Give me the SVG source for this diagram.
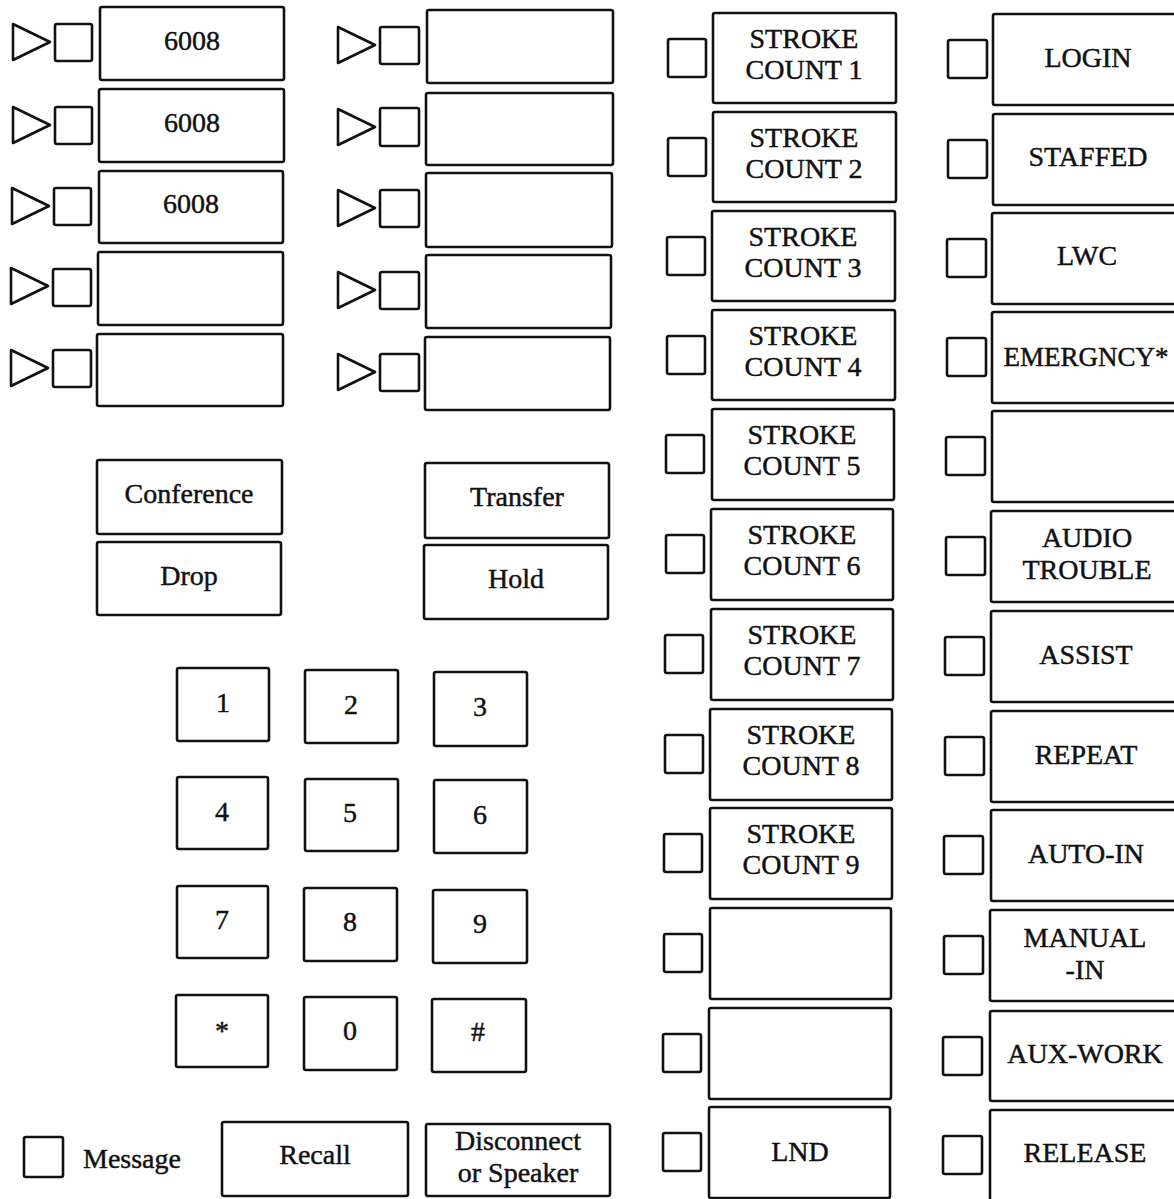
<svg xmlns="http://www.w3.org/2000/svg" width="1174" height="1199" viewBox="0 0 1174 1199">
<style>
rect,polygon{fill:#fff;stroke:#111;stroke-width:2.6;stroke-linejoin:round}
text{font-family:"Liberation Serif","Times New Roman",serif;font-size:28px;text-anchor:middle;fill:#111;stroke:#111;stroke-width:0.45}
.m{font-size:28px}
.d{font-size:28px}
.s{text-anchor:start}
</style>
<rect x="0" y="0" width="1174" height="1199" style="fill:#fff;stroke:none"/>
<!-- left line appearances column 1 -->
<g id="line1"><polygon points="13,24 50,42 13,60"/><rect x="55" y="24" width="37" height="37" rx="2"/><rect x="100" y="7" width="184" height="73" rx="2"/><text x="192" y="50">6008</text></g>
<g id="line2"><polygon points="13,107 50,125 13,143"/><rect x="55" y="107" width="37" height="37" rx="2"/><rect x="99" y="89" width="185" height="73" rx="2"/><text x="192" y="132">6008</text></g>
<g id="line3"><polygon points="12,188 49,206 12,224"/><rect x="54" y="188" width="37" height="37" rx="2"/><rect x="99" y="171" width="184" height="72" rx="2"/><text x="191" y="213">6008</text></g>
<g id="line4"><polygon points="11,268 48,286 11,304"/><rect x="53" y="269" width="38" height="37" rx="2"/><rect x="98" y="252" width="185" height="73" rx="2"/></g>
<g id="line5"><polygon points="11,350 48,368 11,386"/><rect x="53" y="350" width="38" height="37" rx="2"/><rect x="97" y="334" width="186" height="72" rx="2"/></g>
<!-- column 2 -->
<g id="line6"><polygon points="338,27 375,45 338,63"/><rect x="380" y="27" width="39" height="37" rx="2"/><rect x="427" y="10" width="186" height="73" rx="2"/></g>
<g id="line7"><polygon points="338,109 375,127 338,145"/><rect x="380" y="108" width="39" height="38" rx="2"/><rect x="426" y="93" width="187" height="72" rx="2"/></g>
<g id="line8"><polygon points="338,190 375,208 338,226"/><rect x="380" y="190" width="39" height="37" rx="2"/><rect x="426" y="173" width="186" height="74" rx="2"/></g>
<g id="line9"><polygon points="338,272 375,290 338,308"/><rect x="380" y="272" width="39" height="37" rx="2"/><rect x="426" y="255" width="185" height="73" rx="2"/></g>
<g id="line10"><polygon points="338,354 375,372 338,390"/><rect x="380" y="354" width="39" height="37" rx="2"/><rect x="425" y="337" width="185" height="73" rx="2"/></g>
<!-- feature buttons -->
<g id="conference"><rect x="97" y="460" width="185" height="74" rx="2"/><text class="m" x="189" y="503">Conference</text></g>
<g id="drop"><rect x="97" y="542" width="184" height="73" rx="2"/><text class="m" x="189" y="585">Drop</text></g>
<g id="transfer"><rect x="425" y="463" width="184" height="75" rx="2"/><text class="m" x="517" y="506">Transfer</text></g>
<g id="hold"><rect x="424" y="545" width="184" height="74" rx="2"/><text class="m" x="516" y="588">Hold</text></g>
<!-- keypad -->
<g id="k1"><rect x="177" y="668" width="92" height="73" rx="2"/><text class="d" x="223" y="712">1</text></g>
<g id="k2"><rect x="305" y="670" width="93" height="73" rx="2"/><text class="d" x="351" y="714">2</text></g>
<g id="k3"><rect x="434" y="672" width="93" height="74" rx="2"/><text class="d" x="480" y="716">3</text></g>
<g id="k4"><rect x="177" y="777" width="91" height="72" rx="2"/><text class="d" x="222" y="821">4</text></g>
<g id="k5"><rect x="305" y="779" width="93" height="72" rx="2"/><text class="d" x="350" y="822">5</text></g>
<g id="k6"><rect x="434" y="780" width="93" height="73" rx="2"/><text class="d" x="480" y="824">6</text></g>
<g id="k7"><rect x="177" y="886" width="91" height="72" rx="2"/><text class="d" x="222" y="929">7</text></g>
<g id="k8"><rect x="304" y="888" width="93" height="73" rx="2"/><text class="d" x="350" y="931">8</text></g>
<g id="k9"><rect x="433" y="890" width="94" height="73" rx="2"/><text class="d" x="480" y="933">9</text></g>
<g id="kstar"><rect x="176" y="995" width="92" height="72" rx="2"/><text class="d" x="222" y="1040">*</text></g>
<g id="k0"><rect x="304" y="997" width="93" height="73" rx="2"/><text class="d" x="350" y="1040">0</text></g>
<g id="kpound"><rect x="432" y="999" width="94" height="73" rx="2"/><text class="d" x="478" y="1041">#</text></g>
<!-- bottom row -->
<g id="message"><rect x="24" y="1137" width="39" height="40" rx="2"/><text class="m s" x="83" y="1168">Message</text></g>
<g id="recall"><rect x="222" y="1122" width="186" height="74" rx="2"/><text class="m" x="315" y="1164">Recall</text></g>
<g id="disconnect"><rect x="426" y="1124" width="184" height="72" rx="2"/><text class="m" x="518" y="1150">Disconnect</text><text class="m" x="518" y="1182">or Speaker</text></g>
<!-- column 3 -->
<g id="sc1"><rect x="668" y="39" width="38" height="38" rx="2"/><rect x="713" y="13" width="183" height="90" rx="2"/><text x="804" y="48">STROKE</text><text x="804" y="79">COUNT 1</text></g>
<g id="sc2"><rect x="668" y="138" width="38" height="38" rx="2"/><rect x="713" y="112" width="183" height="90" rx="2"/><text x="804" y="147">STROKE</text><text x="804" y="178">COUNT 2</text></g>
<g id="sc3"><rect x="667" y="237" width="38" height="38" rx="2"/><rect x="712" y="211" width="183" height="90" rx="2"/><text x="803" y="246">STROKE</text><text x="803" y="277">COUNT 3</text></g>
<g id="sc4"><rect x="667" y="336" width="38" height="38" rx="2"/><rect x="712" y="310" width="183" height="90" rx="2"/><text x="803" y="345">STROKE</text><text x="803" y="376">COUNT 4</text></g>
<g id="sc5"><rect x="666" y="435" width="38" height="38" rx="2"/><rect x="712" y="409" width="182" height="91" rx="2"/><text x="802" y="444">STROKE</text><text x="802" y="475">COUNT 5</text></g>
<g id="sc6"><rect x="666" y="535" width="38" height="38" rx="2"/><rect x="711" y="509" width="182" height="91" rx="2"/><text x="802" y="544">STROKE</text><text x="802" y="575">COUNT 6</text></g>
<g id="sc7"><rect x="665" y="635" width="38" height="38" rx="2"/><rect x="711" y="609" width="182" height="91" rx="2"/><text x="802" y="644">STROKE</text><text x="802" y="675">COUNT 7</text></g>
<g id="sc8"><rect x="665" y="735" width="38" height="38" rx="2"/><rect x="710" y="709" width="182" height="91" rx="2"/><text x="801" y="744">STROKE</text><text x="801" y="775">COUNT 8</text></g>
<g id="sc9"><rect x="664" y="834" width="38" height="38" rx="2"/><rect x="710" y="808" width="182" height="91" rx="2"/><text x="801" y="843">STROKE</text><text x="801" y="874">COUNT 9</text></g>
<g id="blank10"><rect x="664" y="934" width="38" height="38" rx="2"/><rect x="710" y="908" width="181" height="91" rx="2"/></g>
<g id="blank11"><rect x="663" y="1034" width="38" height="38" rx="2"/><rect x="709" y="1008" width="182" height="91" rx="2"/></g>
<g id="lnd"><rect x="663" y="1133" width="38" height="38" rx="2"/><rect x="709" y="1107" width="181" height="91" rx="2"/><text x="800" y="1161">LND</text></g>
<!-- column 4 -->
<g id="login"><rect x="948" y="40" width="39" height="38" rx="2"/><rect x="993" y="14" width="200" height="91" rx="2"/><text x="1088" y="67">LOGIN</text></g>
<g id="staffed"><rect x="948" y="140" width="39" height="38" rx="2"/><rect x="993" y="114" width="200" height="91" rx="2"/><text x="1088" y="166">STAFFED</text></g>
<g id="lwc"><rect x="947" y="239" width="39" height="38" rx="2"/><rect x="992" y="213" width="200" height="91" rx="2"/><text x="1087" y="265">LWC</text></g>
<g id="emergncy"><rect x="947" y="338" width="39" height="38" rx="2"/><rect x="992" y="312" width="200" height="91" rx="2"/><text x="1086" y="366" style="font-size:27px">EMERGNCY*</text></g>
<g id="blank4-5"><rect x="946" y="437" width="39" height="38" rx="2"/><rect x="992" y="411" width="200" height="91" rx="2"/></g>
<g id="audio"><rect x="946" y="537" width="39" height="38" rx="2"/><rect x="991" y="511" width="200" height="91" rx="2"/><text x="1087" y="547">AUDIO</text><text x="1087" y="579">TROUBLE</text></g>
<g id="assist"><rect x="945" y="637" width="39" height="38" rx="2"/><rect x="991" y="611" width="200" height="91" rx="2"/><text x="1086" y="664">ASSIST</text></g>
<g id="repeat"><rect x="945" y="737" width="39" height="38" rx="2"/><rect x="991" y="711" width="200" height="91" rx="2"/><text x="1086" y="764">REPEAT</text></g>
<g id="autoin"><rect x="944" y="836" width="39" height="38" rx="2"/><rect x="991" y="810" width="200" height="91" rx="2"/><text x="1086" y="863">AUTO-IN</text></g>
<g id="manualin"><rect x="944" y="936" width="39" height="38" rx="2"/><rect x="990" y="910" width="200" height="91" rx="2"/><text x="1085" y="947">MANUAL</text><text x="1085" y="979">-IN</text></g>
<g id="auxwork"><rect x="943" y="1037" width="39" height="38" rx="2"/><rect x="990" y="1011" width="200" height="90" rx="2"/><text x="1085" y="1063">AUX-WORK</text></g>
<g id="release"><rect x="943" y="1136" width="39" height="38" rx="2"/><rect x="990" y="1110" width="200" height="92" rx="2"/><text x="1085" y="1162">RELEASE</text></g>
</svg>
